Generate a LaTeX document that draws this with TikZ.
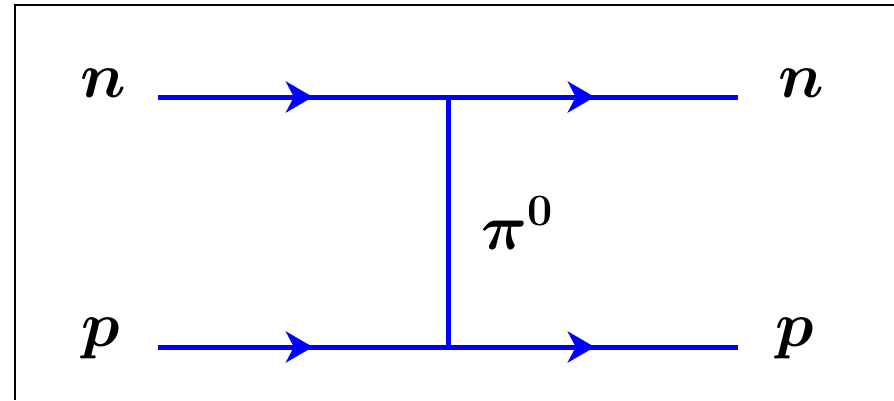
\RequirePackage{fix-cm}
\documentclass[tikz,border=0pt]{standalone}
\usepackage{amsmath}
\usepackage{bm}
\usetikzlibrary{arrows.meta,decorations.markings}
\begin{document}
\begin{tikzpicture}[x=1pt,y=-1pt,
  fermion/.style={draw=blue,line width=5pt,
    postaction={decorate},
    decoration={markings,
      mark=at position 0.267 with {\arrow{Stealth[length=27pt,width=31pt,inset=8pt]}},
      mark=at position 0.753 with {\arrow{Stealth[length=27pt,width=31pt,inset=8pt]}}}},
  boson/.style={draw=blue,line width=5pt},
  lbl/.style={inner sep=0pt,font=\fontsize{64}{70}\selectfont}]
\useasboundingbox (0,0) rectangle (894,400);
\draw[line width=2.5pt] (15,400) -- (15,5) -- (894,5);
\coordinate (a1) at (158,97);
\coordinate (a2) at (738,97);
\coordinate (b1) at (158,347);
\coordinate (b2) at (738,347);
\coordinate (v1) at (448,97);
\coordinate (v2) at (448,347);
\node[lbl] (n1) at (103,83) {$\bm{n}$};
\node[lbl] (n2) at (801,83) {$\bm{n}$};
\node[lbl] (p1) at (101,338) {$\bm{p}$};
\node[lbl] (p2) at (795,338) {$\bm{p}$};
\node[lbl,anchor=west] (pi) at (481,223) {$\bm{\pi^0}$};
\path[fermion] (a1) -- (a2);
\path[fermion] (b1) -- (b2);
\path[boson] (v1) -- (v2);
\end{tikzpicture}
\end{document}
